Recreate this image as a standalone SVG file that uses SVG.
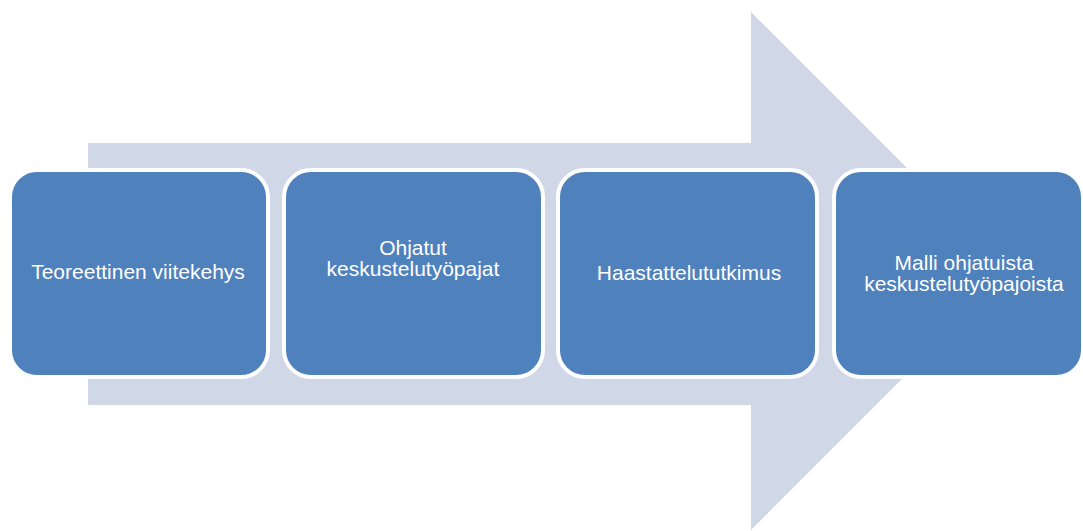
<svg xmlns="http://www.w3.org/2000/svg" width="1083" height="531" viewBox="0 0 1083 531">
<style>
.box{fill:#4F81BD;stroke:#FFFFFF;stroke-width:4}
.lbl{fill:#FFFFFF;font-family:"Liberation Sans",Arial,sans-serif;font-size:21px;text-anchor:middle}
</style>
<rect width="1083" height="531" fill="#FFFFFF"/>
<g id="arrow">
<polygon points="88,143 751,143 751,12 1010,271 751,530 751,405 88,405" fill="#D0D8E8"/>
</g>
<g id="connectors"></g>
<g id="node1">
<rect class="box" x="10" y="170" width="258" height="207" rx="27"/>
<text class="lbl" x="138" y="279">Teoreettinen viitekehys</text>
</g>
<g id="node2">
<rect class="box" x="284" y="170" width="259" height="207" rx="27"/>
<text class="lbl" x="413" y="255">Ohjatut</text>
<text class="lbl" x="413" y="276">keskustelutyöpajat</text>
</g>
<g id="node3">
<rect class="box" x="558" y="170" width="259" height="207" rx="27"/>
<text class="lbl" x="689" y="280">Haastattelututkimus</text>
</g>
<g id="node4">
<rect class="box" x="834" y="170" width="249" height="207" rx="27"/>
<text class="lbl" x="964" y="270">Malli ohjatuista</text>
<text class="lbl" x="964" y="291">keskustelutyöpajoista</text>
</g>
</svg>
